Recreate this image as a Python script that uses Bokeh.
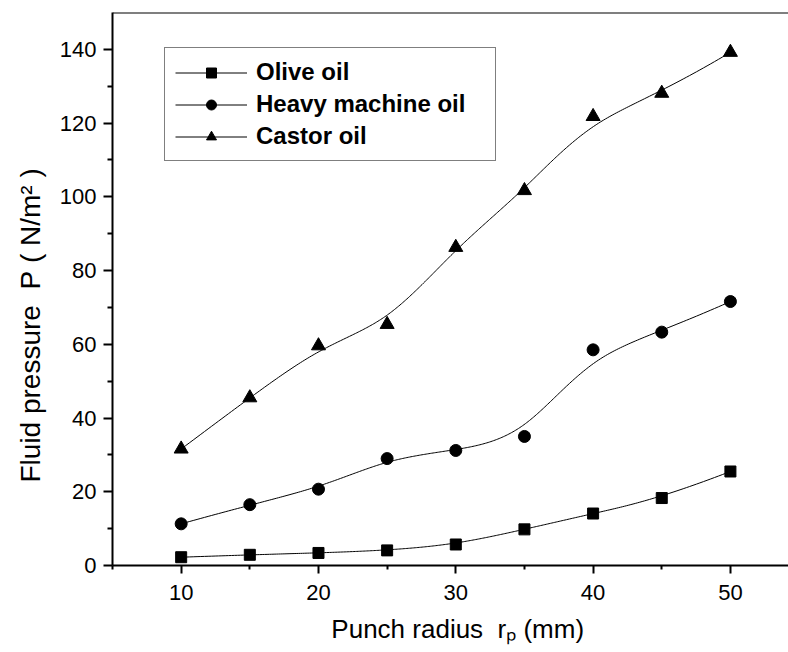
import numpy as np
from bokeh.plotting import figure
from bokeh.models import (Range1d, FixedTicker, Legend, LegendItem, Span, Title)
from bokeh.embed import file_html
from bokeh.resources import INLINE

# ---- data ----
radius_mm = [10, 15, 20, 25, 30, 35, 40, 45, 50]
olive_oil = [2.25, 2.9, 3.4, 4.1, 5.7, 9.8, 14.1, 18.3, 25.5]
heavy_machine_oil = [11.3, 16.5, 20.7, 29.0, 31.2, 35.0, 58.5, 63.3, 71.6]
castor_oil = [31.6, 45.5, 59.6, 65.4, 86.3, 101.7, 121.8, 128.1, 139.2]
series_names = ["Olive oil", "Heavy machine oil", "Castor oil"]
x_major_ticks = [10, 20, 30, 40, 50]
x_minor_ticks = [5, 15, 25, 35, 45]
y_major_ticks = [0, 20, 40, 60, 80, 100, 120, 140]
y_minor_ticks = [10, 30, 50, 70, 90, 110, 130]
NB = "\u00a0"
x_title = NB + NB + "Punch radius" + NB + NB + "r\u209a" + NB + "(mm)"
y_title = "Fluid pressure" + NB + NB + "P" + NB + "(" + NB + "N/m\u00b2" + NB + ")"


def bspline(xs, ys, n=300):
    """Clamped uniform cubic B-spline using the data points as control points."""
    p = 3
    c = np.column_stack([xs, ys]).astype(float)
    m = len(c)
    kmax = m - p
    knots = [0.0] * (p + 1) + list(range(1, kmax)) + [float(kmax)] * (p + 1)
    knots = np.array(knots, dtype=float)
    out = []
    for t in np.linspace(0, kmax, n):
        k = np.searchsorted(knots, t, side="right") - 1
        k = min(k, m - 1)
        d = [c[j + k - p].copy() for j in range(p + 1)]
        for r in range(1, p + 1):
            for j in range(p, r - 1, -1):
                den = knots[j + 1 + k - r] - knots[j + k - p]
                a = 0.0 if den == 0 else (t - knots[j + k - p]) / den
                d[j] = (1 - a) * d[j - 1] + a * d[j]
        out.append(d[p])
    out = np.array(out)
    return out[:, 0], out[:, 1]


FONT = "Liberation Sans"
X0, X1 = 5, 54.23
Y0, Y1 = 0, 150

p = figure(width=788, height=652, output_backend="svg", toolbar_location=None,
           x_range=Range1d(X0, X1), y_range=Range1d(Y0, Y1),
           min_border_left=112, min_border_right=0, min_border_top=12,
           min_border_bottom=87)
p.outline_line_color = None
p.xgrid.visible = False
p.ygrid.visible = False
p.background_fill_color = "white"
p.border_fill_color = "white"

for ax in (p.xaxis[0], p.yaxis[0]):
    ax.axis_line_width = 2
    ax.axis_line_color = "black"
    ax.major_tick_line_width = 2
    ax.minor_tick_line_width = 2
    ax.major_tick_in = 0
    ax.minor_tick_in = 0
    ax.major_label_text_font = FONT
    ax.major_label_text_font_size = "22px"
    ax.major_label_text_color = "black"

p.xaxis[0].ticker = FixedTicker(ticks=x_major_ticks, minor_ticks=x_minor_ticks)
p.yaxis[0].ticker = FixedTicker(ticks=y_major_ticks, minor_ticks=y_minor_ticks)
p.xaxis[0].major_tick_out = 8
p.xaxis[0].minor_tick_out = 4
p.yaxis[0].major_tick_out = 9
p.yaxis[0].minor_tick_out = 5
p.xaxis[0].major_label_standoff = 11
p.yaxis[0].major_label_standoff = 7

p.xaxis[0].axis_label = x_title
p.xaxis[0].axis_label_text_font = FONT
p.xaxis[0].axis_label_text_font_size = "26px"
p.xaxis[0].axis_label_text_font_style = "normal"
p.xaxis[0].axis_label_text_color = "black"
p.xaxis[0].axis_label_standoff = 11

p.add_layout(Title(text=y_title, align="left", offset=83, standoff=22,
                   text_font=FONT, text_font_size="28px", text_font_style="normal",
                   text_color="black"), "left")

p.add_layout(Span(location=Y1, dimension="width", line_color="black", line_width=2))

markers = ["square", "circle", "triangle"]
sizes = [11, 12, 14]
items = []
for name, ys, mk, sz in zip(series_names, [olive_oil, heavy_machine_oil, castor_oil], markers, sizes):
    sx, sy = bspline(radius_mm, ys)
    lr = p.line(sx, sy, line_color="black", line_width=1)
    sr = p.scatter(radius_mm, ys, marker=mk, size=sz, fill_color="black", line_color="black")
    items.append(LegendItem(label=name, renderers=[lr, sr]))

legend = Legend(items=items, location=(52, 404), orientation="vertical",
                label_text_font=FONT, label_text_font_style="bold",
                label_text_font_size="24px", label_text_color="black",
                glyph_width=72, glyph_height=25, label_height=25, label_width=229,
                spacing=4, padding=10, margin=0, label_standoff=9,
                border_line_color="black", border_line_width=1,
                background_fill_color="white", background_fill_alpha=1)
p.add_layout(legend)

open("out.html", "w").write(file_html(p, INLINE))
